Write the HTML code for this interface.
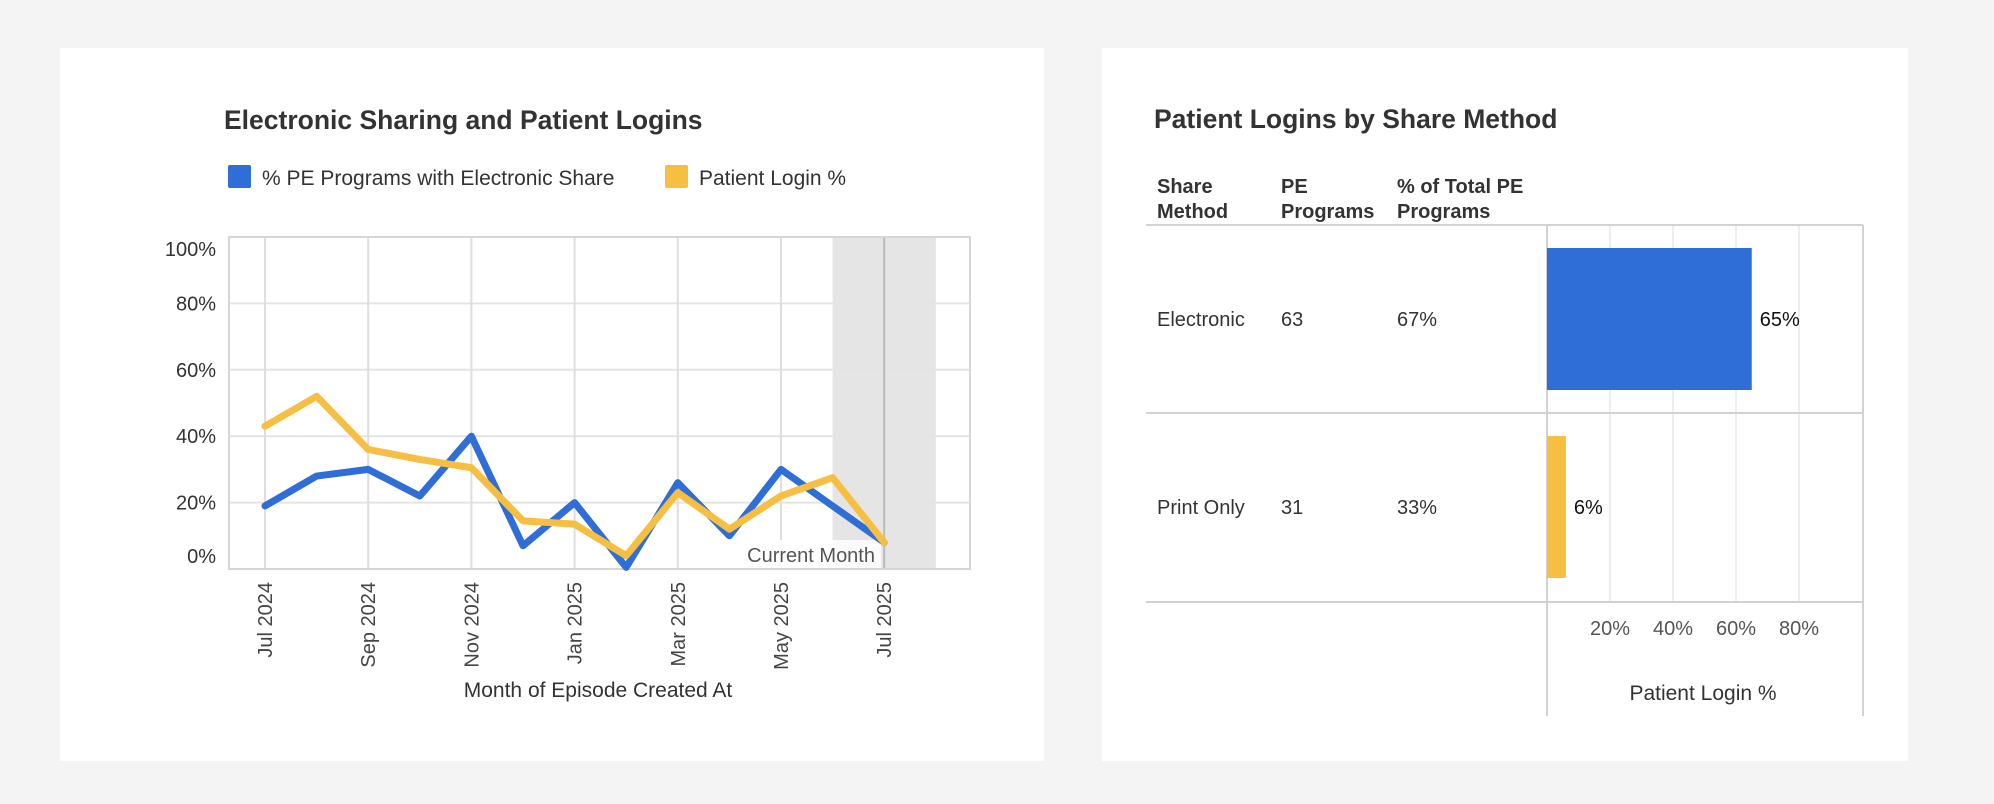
<!DOCTYPE html>
<html><head><meta charset="utf-8"><style>
html,body{margin:0;padding:0;background:#f4f4f4;}
svg{display:block;font-family:"Liberation Sans",sans-serif;}
</style></head><body>
<svg width="1994" height="804" viewBox="0 0 1994 804">
<rect x="0" y="0" width="1994" height="804" fill="#f4f4f4"/>
<g>
<rect x="60" y="48" width="984" height="713" fill="#fff"/>
<text x="224" y="129" font-size="26.5" font-weight="bold" fill="#333">Electronic Sharing and Patient Logins</text>
<g><rect x="228" y="165" width="23" height="23" rx="2" fill="#2F6ED6"/><text x="262" y="185" font-size="21" fill="#333">% PE Programs with Electronic Share</text></g>
<g><rect x="665" y="165" width="23" height="23" rx="2" fill="#F6BF42"/><text x="699" y="185" font-size="21" fill="#333">Patient Login %</text></g>
<g id="lc"></g>
</g>
<g>
<rect x="1102" y="48" width="806" height="713" fill="#fff"/>
<text x="1154" y="128" font-size="26.5" font-weight="bold" fill="#333">Patient Logins by Share Method</text>
<g font-size="20" font-weight="bold" fill="#333">
<text x="1157" y="193">Share</text><text x="1157" y="218">Method</text>
<text x="1281" y="193">PE</text><text x="1281" y="218">Programs</text>
<text x="1397" y="193">% of Total PE</text><text x="1397" y="218">Programs</text>
</g>
<g id="bc"></g>
</g>
</svg>
<script>
const months=["Jul 2024","Aug 2024","Sep 2024","Oct 2024","Nov 2024","Dec 2024","Jan 2025","Feb 2025","Mar 2025","Apr 2025","May 2025","Jun 2025","Jul 2025"];
const electronicShare=[19,28,30,22,40,7,20,0.5,26,10,30,19,8];
const patientLogin=[43,52,36,33,30.5,14.5,13.5,4,23,12,22,27.5,8];
const yTicks=[0,20,40,60,80,100];
const xTickIdx=[0,2,4,6,8,10,12];
const methods=["Electronic","Print Only"];
const programs=[63,31];
const pctTotal=["67%","33%"];
const loginPct=[65,6];
const barTicks=[20,40,60,80];

const NS="http://www.w3.org/2000/svg";
function mk(p,t,a,txt){const e=document.createElementNS(NS,t);for(const k in a)e.setAttribute(k,a[k]);if(txt!==undefined)e.textContent=txt;p.appendChild(e);return e;}
// line chart
const lc=document.getElementById('lc');
const L=229,R=970,T=237,B=569;
const x=i=>265+i*51.6;
const y=v=>B-(v/100)*(B-T);
let shade=mk(lc,'rect',{x:x(11),y:T,width:x(13)-x(11),height:B-T,fill:'#e5e5e5'});


yTicks.forEach(v=>{let g=mk(lc,'line',{x1:L,x2:R,y1:y(v),y2:y(v),stroke:'#e4e4e4','stroke-width':2});
});
xTickIdx.forEach(i=>{let g=mk(lc,'line',{x1:x(i),x2:x(i),y1:T,y2:B,stroke:'#dedede','stroke-width':2});
});
let cm=mk(lc,'line',{x1:x(12),x2:x(12),y1:T,y2:B,stroke:'#bbb','stroke-width':2});

let fr=mk(lc,'rect',{x:L,y:T,width:R-L,height:B-T,fill:'none',stroke:'#d6d6d6','stroke-width':2});

yTicks.forEach(v=>{let ty=v===100?y(v)+19:(v===0?y(v)-6:y(v)+7);
let t=mk(lc,'text',{x:216,y:ty,'text-anchor':'end','font-size':20,fill:'#333'},v+'%');
});
xTickIdx.forEach(i=>{let t=mk(lc,'text',{x:0,y:0,'text-anchor':'end','font-size':20,fill:'#444',transform:`translate(${x(i)+7},582) rotate(-90)`},months[i]);
});
let cmb=mk(lc,'rect',{x:735,y:540,width:146,height:28,fill:'#fff','fill-opacity':0.85});

function series(vals,col,name){let d=vals.map((v,i)=>(i?'L':'M')+x(i)+','+y(v)).join(' ');
let p=mk(lc,'path',{d:d,fill:'none',stroke:col,'stroke-width':7,'stroke-linejoin':'round','stroke-linecap':'round'});
}
series(electronicShare,'#2F6ED6','electronic-share-line');
series(patientLogin,'#F6BF42','patient-login-line');
let cml=mk(lc,'text',{x:875,y:562,'text-anchor':'end','font-size':20,fill:'#555'},'Current Month');

let xt=mk(lc,'text',{x:598,y:697,'text-anchor':'middle','font-size':21,fill:'#333'},'Month of Episode Created At');

// bar chart
const bc=document.getElementById('bc');
const X0=1547,X1=1862;
const bx=v=>X0+v/100*(X1-X0);
barTicks.forEach(v=>{let g=mk(bc,'line',{x1:bx(v),x2:bx(v),y1:225,y2:602,stroke:'#eeeeee','stroke-width':2});
});
[225,413,602].forEach(yy=>{let l=mk(bc,'line',{x1:1146,x2:1863,y1:yy,y2:yy,stroke:'#d2d2d2','stroke-width':2});
});
[X0,1863].forEach(xx=>{let l=mk(bc,'line',{x1:xx,x2:xx,y1:225,y2:716,stroke:'#d2d2d2','stroke-width':2});
});
const rowTop=[248,436],cols=['#2F6ED6','#F6BF42'];
methods.forEach((m,i)=>{const cy=rowTop[i]+71;
let a=mk(bc,'text',{x:1157,y:cy+7,'font-size':20,fill:'#333'},m);
let b=mk(bc,'text',{x:1281,y:cy+7,'font-size':20,fill:'#333'},programs[i]);
let c=mk(bc,'text',{x:1397,y:cy+7,'font-size':20,fill:'#333'},pctTotal[i]);
let r=mk(bc,'rect',{x:X0,y:rowTop[i],width:bx(loginPct[i])-X0,height:142,fill:cols[i]});

let lt=mk(bc,'text',{x:bx(loginPct[i])+8,y:cy+7,'font-size':20,fill:'#111'},loginPct[i]+'%');
});
barTicks.forEach(v=>{let t=mk(bc,'text',{x:bx(v),y:635,'text-anchor':'middle','font-size':20,fill:'#555'},v+'%');
});
let bt=mk(bc,'text',{x:1703,y:700,'text-anchor':'middle','font-size':21,fill:'#333'},'Patient Login %');

</script>
</body></html>
